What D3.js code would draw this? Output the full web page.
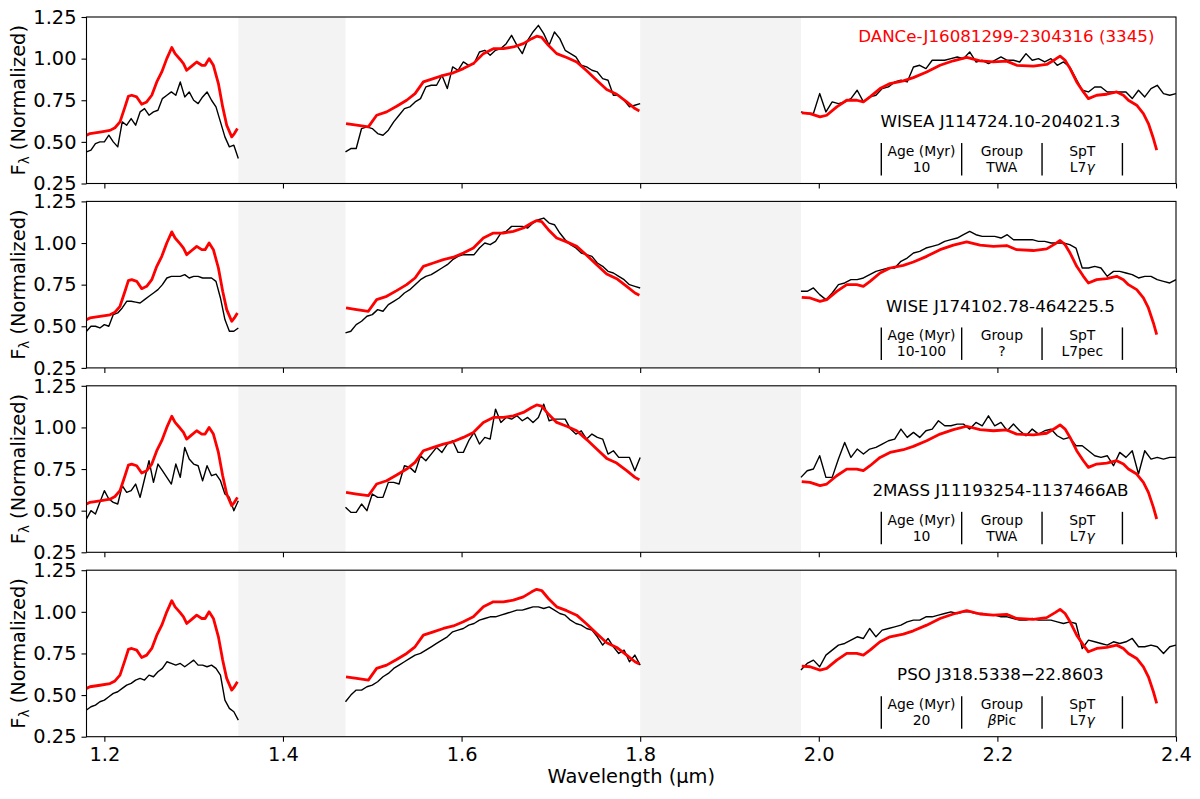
<!DOCTYPE html>
<html>
<head>
<meta charset="utf-8">
<script src="https://cdn.jsdelivr.net/npm/d3@7"></script>
<style>
  body { margin: 0; background: #ffffff; }
  svg { display: block; font-family: "DejaVu Sans", sans-serif; }
</style>
</head>
<body>
<svg id="chart" width="1200" height="799"></svg>
<script>
// ---------------- data ----------------
const xTicks = [1.2, 1.4, 1.6, 1.8, 2.0, 2.2, 2.4];
const yTicks = [0.25, 0.50, 0.75, 1.00, 1.25];
const gapBands = [[1.35, 1.47], [1.80, 1.98]];

const targetName = "DANCe-J16081299-2304316 (3345)";
const objectNames = ["WISEA J114724.10-204021.3", "WISE J174102.78-464225.5", "2MASS J11193254-1137466AB", "PSO J318.5338\u221222.8603"];
const ages = ["10", "10-100", "10", "20"];
const groups = ["TWA", "?", "TWA", "\u03B2Pic"];
const spts = ["L7\u03B3", "L7pec", "L7\u03B3", "L7\u03B3"];
const tableHeaders = ["Age (Myr)", "Group", "SpT"];

// wavelength grids (micron) of the comparison spectra
const gridJ = [1.180,1.185,1.190,1.195,1.200,1.205,1.210,1.215,1.220,1.225,1.230,1.235,1.240,1.245,1.250,1.255,1.260,1.265,1.270,1.275,1.280,1.285,1.290,1.295,1.300,1.305,1.310,1.315,1.320,1.325,1.330,1.335,1.340,1.345,1.350];
const gridH = [1.470,1.476,1.482,1.488,1.494,1.500,1.506,1.512,1.518,1.524,1.530,1.536,1.542,1.548,1.554,1.560,1.566,1.572,1.578,1.584,1.590,1.596,1.602,1.608,1.614,1.620,1.626,1.632,1.638,1.644,1.650,1.656,1.662,1.668,1.674,1.680,1.686,1.692,1.698,1.704,1.710,1.716,1.722,1.728,1.734,1.740,1.746,1.752,1.758,1.764,1.770,1.776,1.782,1.788,1.794,1.800];
const gridK = [1.980,1.987,1.994,2.001,2.008,2.015,2.022,2.029,2.036,2.043,2.050,2.057,2.064,2.071,2.078,2.085,2.092,2.099,2.106,2.113,2.120,2.127,2.134,2.141,2.148,2.155,2.162,2.169,2.176,2.183,2.190,2.197,2.204,2.211,2.218,2.225,2.232,2.239,2.246,2.253,2.260,2.267,2.274,2.281,2.288,2.295,2.302,2.309,2.316,2.323,2.330,2.337,2.344,2.351,2.358,2.365,2.372,2.379,2.386,2.393,2.400];

// target (red) spectrum
const redJWave = [1.180,1.1839,1.1951,1.2063,1.2119,1.2175,1.2231,1.2269,1.2306,1.2362,1.2418,1.2474,1.2531,1.2587,1.2643,1.2699,1.2755,1.2792,1.2849,1.2886,1.2922,1.2978,1.3034,1.3091,1.3128,1.3173,1.3221,1.3277,1.3325,1.3370,1.3426,1.3456,1.3490];
const redJFlux = [0.54,0.55,0.559,0.569,0.585,0.62,0.71,0.774,0.78,0.77,0.726,0.74,0.78,0.86,0.92,1.00,1.067,1.03,0.995,0.97,0.93,0.955,0.98,0.96,0.96,1.00,0.96,0.85,0.71,0.60,0.53,0.55,0.58];
const redHWave = [1.4706,1.4825,1.4956,1.5049,1.5161,1.5273,1.5385,1.5479,1.5572,1.5684,1.5796,1.5908,1.6020,1.6132,1.6244,1.6356,1.6468,1.6580,1.6692,1.6785,1.6841,1.6897,1.6972,1.7065,1.7177,1.7289,1.7401,1.7513,1.7625,1.7737,1.7849,1.7942,1.7991];
const redHFlux = [0.61,0.60,0.59,0.66,0.68,0.714,0.75,0.79,0.86,0.88,0.90,0.915,0.94,0.97,1.03,1.06,1.06,1.07,1.09,1.12,1.135,1.128,1.08,1.03,1.007,0.98,0.927,0.87,0.814,0.786,0.74,0.70,0.686];
const redKWave = [1.9809,1.9902,2.0014,2.0089,2.0201,2.0313,2.0425,2.0499,2.0574,2.0686,2.0798,2.0947,2.1059,2.1208,2.1358,2.1507,2.1656,2.1806,2.1955,2.2104,2.2216,2.2403,2.2552,2.2646,2.2702,2.2758,2.2814,2.2888,2.2963,2.3019,2.3112,2.3224,2.3336,2.3411,2.3467,2.3560,2.3635,2.3691,2.3747,2.3784];
const redKFlux = [0.674,0.67,0.65,0.66,0.71,0.75,0.75,0.74,0.77,0.82,0.85,0.866,0.886,0.92,0.96,0.987,1.007,0.987,0.98,0.985,0.96,0.955,0.965,0.995,1.015,0.99,0.94,0.86,0.80,0.76,0.78,0.786,0.80,0.78,0.75,0.72,0.67,0.61,0.52,0.45];

// comparison (black) spectra, one per panel and band
const obj1J = [0.44,0.45,0.49,0.50,0.50,0.54,0.50,0.47,0.62,0.60,0.64,0.60,0.68,0.70,0.66,0.68,0.69,0.76,0.78,0.80,0.78,0.86,0.77,0.80,0.75,0.73,0.77,0.80,0.75,0.71,0.62,0.53,0.47,0.48,0.40];
const obj1H = [0.44,0.46,0.46,0.58,0.59,0.58,0.55,0.54,0.57,0.62,0.66,0.70,0.71,0.74,0.76,0.83,0.84,0.84,0.90,0.82,0.95,0.93,0.98,0.96,0.97,1.04,1.05,1.02,1.05,1.06,1.09,1.14,1.08,1.03,1.11,1.16,1.20,1.15,1.08,1.16,1.12,1.05,1.03,1.01,0.96,0.95,0.93,0.92,0.88,0.87,0.78,0.78,0.75,0.71,0.72,0.73];
const obj1K = [0.68,0.67,0.67,0.79,0.68,0.74,0.73,0.74,0.76,0.81,0.74,0.77,0.78,0.82,0.83,0.86,0.87,0.86,0.95,0.96,0.94,0.99,0.99,0.99,1.00,1.01,1.00,1.04,0.98,0.99,0.97,0.99,1.01,0.99,0.99,0.98,1.03,0.99,1.00,0.98,1.00,0.96,0.98,0.95,0.88,0.81,0.80,0.83,0.83,0.80,0.80,0.80,0.80,0.76,0.81,0.77,0.82,0.84,0.79,0.78,0.79];
const obj2J = [0.47,0.50,0.50,0.49,0.51,0.50,0.57,0.58,0.61,0.65,0.65,0.645,0.64,0.66,0.68,0.70,0.72,0.75,0.79,0.80,0.80,0.80,0.81,0.79,0.80,0.80,0.79,0.79,0.79,0.77,0.67,0.54,0.47,0.47,0.49];
const obj2H = [0.46,0.47,0.51,0.53,0.56,0.57,0.60,0.59,0.63,0.65,0.67,0.70,0.72,0.75,0.78,0.80,0.81,0.83,0.85,0.87,0.90,0.92,0.93,0.93,0.93,0.97,1.00,0.99,1.01,1.06,1.07,1.10,1.10,1.10,1.09,1.12,1.14,1.15,1.12,1.11,1.06,1.02,0.99,0.97,0.94,0.93,0.92,0.88,0.86,0.83,0.82,0.80,0.78,0.75,0.74,0.73];
const obj2K = [0.71,0.71,0.73,0.69,0.66,0.70,0.75,0.76,0.78,0.78,0.79,0.81,0.83,0.84,0.85,0.85,0.89,0.91,0.94,0.95,0.97,0.98,0.99,1.01,1.02,1.03,1.05,1.07,1.05,1.04,1.04,1.04,1.03,1.05,1.02,1.02,1.02,1.02,1.01,1.01,1.00,1.00,1.00,0.99,0.97,0.85,0.85,0.86,0.85,0.80,0.83,0.83,0.82,0.81,0.79,0.80,0.80,0.78,0.77,0.76,0.78];
const obj3J = [0.45,0.50,0.48,0.55,0.62,0.57,0.55,0.54,0.65,0.61,0.62,0.66,0.58,0.69,0.80,0.67,0.78,0.74,0.70,0.66,0.78,0.70,0.88,0.81,0.78,0.77,0.68,0.77,0.71,0.72,0.68,0.60,0.58,0.50,0.56];
const obj3H = [0.52,0.49,0.49,0.54,0.50,0.60,0.58,0.58,0.67,0.67,0.66,0.77,0.76,0.73,0.83,0.80,0.84,0.88,0.85,0.90,0.92,0.85,0.85,0.92,0.97,0.90,0.94,0.93,1.11,1.03,1.06,1.05,1.07,1.04,1.06,1.03,1.06,1.14,1.04,1.05,1.05,1.05,0.99,0.96,0.98,0.93,0.96,0.94,0.93,0.84,0.86,0.82,0.82,0.82,0.74,0.82];
const obj3K = [0.70,0.74,0.75,0.83,0.70,0.70,0.81,0.91,0.82,0.87,0.84,0.87,0.88,0.90,0.92,0.93,0.99,0.94,0.97,0.94,0.98,0.99,1.04,1.01,1.01,1.02,1.02,0.99,1.03,1.01,1.07,1.01,1.03,0.98,1.02,0.98,0.95,0.99,0.96,0.98,0.99,0.95,0.93,0.94,0.89,0.89,0.86,0.83,0.82,0.83,0.77,0.85,0.82,0.86,0.72,0.86,0.81,0.82,0.81,0.82,0.82];
const obj4J = [0.41,0.43,0.44,0.46,0.47,0.49,0.51,0.52,0.54,0.56,0.57,0.59,0.60,0.59,0.62,0.61,0.64,0.66,0.70,0.69,0.68,0.69,0.67,0.69,0.71,0.68,0.68,0.67,0.68,0.66,0.62,0.47,0.42,0.40,0.35];
const obj4H = [0.46,0.50,0.53,0.53,0.55,0.56,0.58,0.61,0.63,0.66,0.68,0.70,0.72,0.74,0.75,0.77,0.79,0.81,0.83,0.85,0.88,0.89,0.90,0.92,0.93,0.95,0.96,0.97,0.97,0.98,0.99,1.00,1.01,1.01,1.02,1.03,1.03,1.02,1.03,1.01,0.99,0.98,0.95,0.93,0.92,0.90,0.89,0.85,0.80,0.84,0.79,0.75,0.77,0.70,0.74,0.68];
const obj4K = [0.65,0.69,0.71,0.67,0.74,0.77,0.80,0.81,0.83,0.85,0.84,0.90,0.85,0.89,0.90,0.91,0.92,0.94,0.95,0.95,0.97,0.97,0.98,0.99,1.00,0.99,1.00,1.00,0.99,0.99,0.98,0.98,0.97,0.97,0.96,0.95,0.95,0.96,0.95,0.95,0.95,0.94,0.93,0.94,0.93,0.78,0.83,0.82,0.81,0.80,0.82,0.81,0.82,0.84,0.79,0.79,0.80,0.79,0.75,0.79,0.80];

const objectSpectra = [
  [obj1J, obj1H, obj1K],
  [obj2J, obj2H, obj2K],
  [obj3J, obj3H, obj3K],
  [obj4J, obj4H, obj4K]
];

// ---------------- layout ----------------
const W = 1200, H = 799;
const left = 86.5, right = 1176;
const panelTops = [17, 201.4, 385.8, 570.2];
const panelH = 166.5;

const svg = d3.select("#chart");
const x = d3.scaleLinear().domain([1.18, 2.4]).range([left, right]);

const grids = [gridJ, gridH, gridK];
const redSegs = [[redJWave, redJFlux], [redHWave, redHFlux], [redKWave, redKFlux]];

panelTops.forEach((top, i) => {
  const y = d3.scaleLinear().domain([0.25, 1.25]).range([panelH, 0]);
  const g = svg.append("g").attr("transform", `translate(0,${top})`);

  const clipId = "clip" + i;
  g.append("clipPath").attr("id", clipId)
    .append("rect").attr("x", left).attr("y", 0).attr("width", right - left).attr("height", panelH);

  // gray gap bands
  g.selectAll("rect.band").data(gapBands).enter().append("rect")
    .attr("class", "band")
    .attr("x", d => x(d[0])).attr("width", d => x(d[1]) - x(d[0]))
    .attr("y", 0).attr("height", panelH)
    .attr("fill", "#f3f3f3");

  const line = d3.line().x(d => x(d[0])).y(d => y(d[1]));
  const plot = g.append("g").attr("clip-path", `url(#${clipId})`);

  // comparison (black) spectrum
  objectSpectra[i].forEach((vals, b) => {
    const pts = grids[b].map((w, k) => [w, vals[k]]);
    plot.append("path").attr("d", line(pts))
      .attr("fill", "none").attr("stroke", "#000").attr("stroke-width", 1.4)
      .attr("stroke-linejoin", "round");
  });

  // target (red) spectrum
  redSegs.forEach(([ws, fs]) => {
    const pts = ws.map((w, k) => [w, fs[k]]);
    plot.append("path").attr("d", line(pts))
      .attr("fill", "none").attr("stroke", "#ff0000").attr("stroke-width", 2.8)
      .attr("stroke-linejoin", "round");
  });

  // axes
  const yAxis = d3.axisLeft(y).tickValues(yTicks).tickFormat(d3.format(".2f")).tickSize(5).tickPadding(5);
  const ya = g.append("g").attr("transform", `translate(${left},0)`).call(yAxis);
  ya.select(".domain").remove();
  ya.selectAll("text").attr("font-size", 19.4).attr("fill", "#000").attr("font-family", "DejaVu Sans");
  ya.selectAll("line").attr("stroke", "#000").attr("stroke-width", 1.1);

  const xAxis = d3.axisBottom(x).tickValues(xTicks).tickFormat(i === 3 ? d3.format(".1f") : () => "").tickSize(5).tickPadding(6);
  const xa = g.append("g").attr("transform", `translate(0,${panelH})`).call(xAxis);
  xa.select(".domain").remove();
  xa.selectAll("text").attr("font-size", 19.4).attr("fill", "#000").attr("font-family", "DejaVu Sans");
  xa.selectAll("line").attr("stroke", "#000").attr("stroke-width", 1.1);

  // frame
  g.append("rect").attr("x", left).attr("y", 0).attr("width", right - left).attr("height", panelH)
    .attr("fill", "none").attr("stroke", "#000").attr("stroke-width", 1.1);

  // y label
  const yl = g.append("text")
    .attr("transform", `translate(25,${panelH / 2}) rotate(-90)`)
    .attr("text-anchor", "middle").attr("font-size", 19.4).attr("fill", "#000");
  yl.append("tspan").text("F");
  yl.append("tspan").attr("font-size", 13.5).attr("dy", 4).text("\u03BB");
  yl.append("tspan").attr("dy", -4).text(" (Normalized)");

  // target label (first panel)
  if (i === 0) {
    g.append("text").attr("x", x(2.21)).attr("y", y(1.136)).attr("dy", "0.35em")
      .attr("text-anchor", "middle").attr("font-size", 16.7).attr("fill", "#ff0000")
      .text(targetName);
  }

  // object name
  g.append("text").attr("x", x(2.2034)).attr("y", y(0.623)).attr("dy", "0.35em")
    .attr("text-anchor", "middle").attr("font-size", 16.7).attr("fill", "#000")
    .text(objectNames[i]);

  // table separators
  const seps = [2.07, 2.16, 2.25, 2.34];
  g.selectAll("line.sep").data(seps).enter().append("line")
    .attr("class", "sep")
    .attr("x1", d => x(d)).attr("x2", d => x(d))
    .attr("y1", y(0.493)).attr("y2", y(0.298))
    .attr("stroke", "#000").attr("stroke-width", 1.4);

  const cols = [2.115, 2.205, 2.295];
  const vals = [ages[i], groups[i], spts[i]];
  cols.forEach((cx, c) => {
    g.append("text").attr("x", x(cx)).attr("y", y(0.445)).attr("dy", "0.35em")
      .attr("text-anchor", "middle").attr("font-size", 13.9).attr("fill", "#000")
      .text(tableHeaders[c]);
    const t = g.append("text").attr("x", x(cx)).attr("y", y(0.348)).attr("dy", "0.35em")
      .attr("text-anchor", "middle").attr("font-size", 13.9).attr("fill", "#000");
    const v = vals[c];
    const greek = /[\u03B1-\u03C9]/;
    Array.from(v).forEach(ch => {
      const ts = t.append("tspan").text(ch);
      if (greek.test(ch)) ts.attr("font-style", "italic");
    });
  });
});

// x label
svg.append("text").attr("x", (left + right) / 2).attr("y", 783)
  .attr("text-anchor", "middle").attr("font-size", 19.4).attr("fill", "#000")
  .text("Wavelength (\u03BCm)");
</script>
</body>
</html>
